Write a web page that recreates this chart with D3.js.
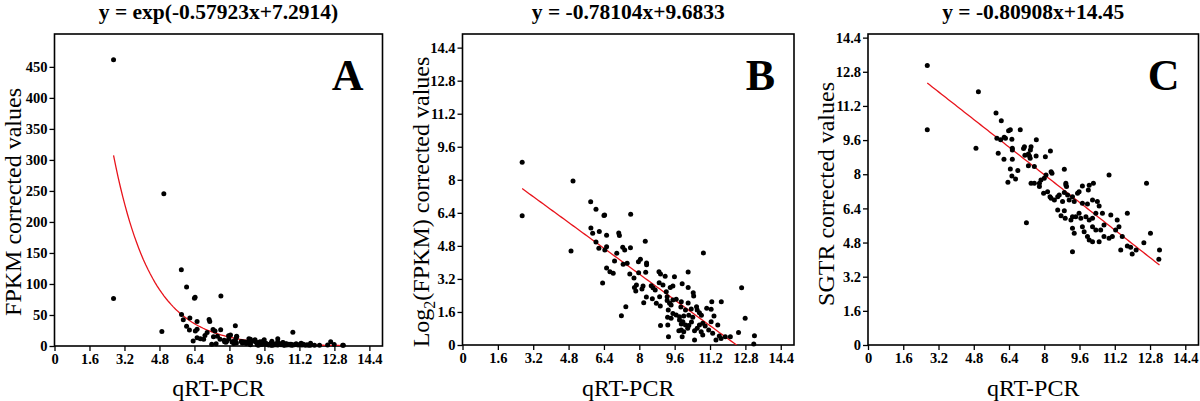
<!DOCTYPE html>
<html>
<head>
<meta charset="utf-8">
<script src="https://cdn.jsdelivr.net/npm/d3@7"></script>
<style>
body { margin: 0; background: #fff; }
</style>
</head>
<body>
<div id="chart"></div>
<script>
// qRT-PCR values shared by panels A and B
var qpcr = [2.70,5.00,2.70,5.80,6.04,6.40,6.43,7.61,5.81,5.89,6.19,6.52,7.07,7.10,6.04,6.17,6.44,6.52,4.91,8.27,
	7.25,7.60,7.34,6.98,6.88,7.27,7.45,8.05,7.96,8.33,8.33,6.52,6.67,6.82,7.57,7.76,7.97,8.29,6.34,8.89,
	8.96,9.17,9.59,10.21,7.87,7.78,8.17,8.12,8.54,8.62,8.72,8.90,9.07,9.40,9.52,9.22,7.84,9.94,10.21,10.44,
	10.46,8.32,8.59,8.92,8.20,8.77,9.26,9.26,9.37,9.52,9.67,9.44,9.90,8.95,10.21,10.59,11.28,7.39,7.19,9.31,
	9.52,9.88,10.09,10.35,10.62,11.05,11.25,9.28,9.44,9.67,9.82,10.01,10.24,10.42,10.72,10.81,11.38,8.96,9.29,9.82,
	9.97,9.90,10.09,10.36,10.24,10.72,10.87,10.98,11.25,11.55,9.90,10.01,9.79,10.19,10.50,10.62,10.80,10.87,11.14,11.32,
	9.32,9.94,10.50,11.62,11.70,11.89,12.12,11.47,12.49,12.79,12.63,11.71,10.90,13.21,13.18];
var log2Fpkm = [8.85,7.94,6.26,6.94,6.57,6.27,6.30,6.33,5.67,5.41,5.50,5.31,5.42,5.30,4.99,4.68,4.60,4.76,4.55,5.02,
	4.73,4.71,4.60,4.44,4.07,3.91,3.96,4.15,4.03,3.97,3.89,3.73,3.55,3.47,3.44,3.24,3.50,3.52,3.00,3.55,
	3.44,3.33,3.31,3.53,2.91,2.79,2.86,2.71,2.87,2.77,2.66,3.02,2.91,2.79,2.86,2.58,2.61,2.97,2.79,2.53,
	2.37,2.32,2.24,2.34,2.05,2.02,2.34,2.15,2.02,2.18,2.21,1.94,2.10,1.89,2.03,1.85,2.10,1.85,1.42,1.69,
	1.53,1.84,1.69,1.74,1.69,1.78,1.73,1.34,1.29,1.45,1.37,1.40,1.44,1.34,1.56,1.44,1.40,0.94,0.97,1.21,
	1.13,1.02,0.97,1.11,0.95,0.97,1.05,0.92,1.13,0.97,0.73,0.64,0.69,0.81,0.69,0.81,0.64,0.48,0.73,0.57,
	0.40,0.40,0.24,0.44,0.32,0.40,0.40,0.24,0.61,1.29,2.77,2.10,4.46,0.45,0.05];
// panel A plots the same measurements un-logged
var fpkm = log2Fpkm.map(function(v) { return Math.pow(2, v); });

// panel C
var qpcrC = [2.69,2.69,5.01,4.90,5.81,6.05,6.38,6.46,6.91,5.85,6.02,6.18,6.24,6.53,7.64,5.91,6.55,6.55,7.06,7.10,
	7.40,7.37,7.28,6.17,6.55,7.63,8.28,8.05,7.12,7.33,7.36,7.28,7.55,6.46,6.80,6.53,6.70,6.35,7.40,7.55,
	7.78,7.78,7.85,8.00,8.15,8.26,8.31,8.46,8.61,8.61,7.97,8.08,8.31,8.35,7.19,8.91,8.98,8.68,8.91,10.94,
	12.64,8.98,9.01,9.73,10.04,10.23,10.00,9.58,9.51,8.83,9.06,9.13,9.28,9.36,9.73,9.96,10.19,10.41,10.49,8.91,
	8.76,8.95,9.28,9.21,9.43,9.58,9.66,9.89,10.04,10.19,10.34,10.64,9.28,9.36,9.73,9.81,10.19,10.34,10.56,10.71,
	9.96,10.04,10.19,10.49,10.71,10.94,11.09,11.02,11.31,11.39,11.24,11.77,11.54,9.28,11.47,11.77,11.92,11.99,12.17,12.52,
	12.82,13.23,13.20];
var sgtr = [13.09,10.09,11.86,9.22,10.87,10.51,10.04,10.08,10.08,9.69,9.61,9.73,9.69,9.64,9.62,8.98,9.22,9.14,9.20,9.29,
	9.29,9.14,8.95,8.70,8.70,8.86,9.09,8.82,8.89,8.86,8.75,8.40,8.36,8.25,8.17,7.92,7.78,7.62,7.58,7.58,
	7.58,7.42,7.73,7.81,7.18,6.95,6.87,6.79,6.95,6.33,7.11,7.97,8.12,8.05,5.73,8.23,7.50,7.03,7.14,7.97,
	7.58,7.58,7.42,7.45,7.48,7.58,7.26,7.18,7.11,6.72,7.03,6.79,6.95,6.72,6.64,6.61,6.79,6.72,6.51,6.29,
	6.05,5.94,6.01,5.86,6.01,6.17,5.94,6.01,5.86,5.94,6.17,6.17,5.47,5.23,5.54,5.31,5.54,5.39,5.39,5.62,
	5.08,4.92,4.84,4.84,5.08,5.00,5.08,6.09,5.86,5.54,5.39,6.17,5.08,4.37,4.45,4.64,4.58,4.26,4.45,4.79,
	5.23,4.45,4.02];

var xTicks = [0,1.6,3.2,4.8,6.4,8,9.6,11.2,12.8,14.4];
var logTicks = [0,1.6,3.2,4.8,6.4,8,9.6,11.2,12.8,14.4];
var fpkmTicks = [0,50,100,150,200,250,300,350,400,450];

var w = 1200;
var h = 401;
var serif = "'Liberation Serif', 'Times New Roman', serif";

var svg = d3.select("#chart").append("svg").attr("width", w).attr("height", h);

var panels = [
	{ id: "A", left: 54.5, right: 382.5, top: 34, bottom: 346, ymax: 503, yt: fpkmTicks, labY: 202,
	  xs: qpcr, ys: fpkm, title: "y = exp(-0.57923x+7.2914)", ylab: ["FPKM corrected values"],
	  fit: function(x) { return Math.exp(-0.57923 * x + 7.2914); } },
	{ id: "B", left: 462.5, right: 794, top: 34, bottom: 345, ymax: 15.06, yt: logTicks, labY: 202,
	  xs: qpcr, ys: log2Fpkm, title: "y = -0.78104x+9.6833", ylab: ["Log", "2", "(FPKM) corrected values"],
	  fit: function(x) { return -0.78104 * x + 9.6833; } },
	{ id: "C", left: 868, right: 1198.5, top: 34, bottom: 345, ymax: 14.57, yt: logTicks, labY: 194,
	  xs: qpcrC, ys: sgtr, title: "y = -0.80908x+14.45", ylab: ["SGTR corrected values"],
	  fit: function(x) { return -0.80908 * x + 14.45; } }
];

function drawPanel(p) {
	var g = svg.append("g");
	var x = d3.scaleLinear().domain([0, 15]).range([p.left, p.right]);
	var y = d3.scaleLinear().domain([0, p.ymax]).range([p.bottom, p.top]);

	g.append("clipPath").attr("id", "clip" + p.id)
		.append("rect")
		.attr("x", p.left).attr("y", p.top)
		.attr("width", p.right - p.left).attr("height", p.bottom - p.top);

	// axes
	var xa = g.append("g").attr("transform", "translate(0," + p.bottom + ")")
		.call(d3.axisBottom(x).tickValues(xTicks).tickSize(5).tickSizeOuter(0).tickPadding(3)
			.tickFormat(function(d) { return String(d); }));
	var ya = g.append("g").attr("transform", "translate(" + p.left + ",0)")
		.call(d3.axisLeft(y).tickValues(p.yt).tickSize(5).tickSizeOuter(0).tickPadding(2)
			.tickFormat(function(d) { return String(d); }));
	[xa, ya].forEach(function(a) {
		a.select(".domain").remove();
		a.selectAll("line").attr("stroke", "#000").attr("stroke-width", 1.3);
		a.selectAll("text").attr("font-family", serif).attr("font-size", 14.5)
			.attr("font-weight", "bold").attr("fill", "#000");
	});

	// frame
	g.append("rect")
		.attr("x", p.left).attr("y", p.top)
		.attr("width", p.right - p.left).attr("height", p.bottom - p.top)
		.attr("fill", "none").attr("stroke", "#000").attr("stroke-width", 1.6);

	// fitted curve
	var x0 = d3.min(p.xs), x1 = d3.max(p.xs);
	var fx = d3.range(0, 101).map(function(i) { return x0 + (x1 - x0) * i / 100; });
	g.append("path")
		.datum(fx)
		.attr("clip-path", "url(#clip" + p.id + ")")
		.attr("fill", "none").attr("stroke", "#e8141c").attr("stroke-width", 1.3)
		.attr("d", d3.line().x(function(d) { return x(d); }).y(function(d) { return y(p.fit(d)); }));

	// points
	g.selectAll("circle.pt")
		.data(p.xs)
		.enter().append("circle")
		.attr("class", "pt")
		.attr("cx", function(d) { return x(d); })
		.attr("cy", function(d, i) { return y(p.ys[i]); })
		.attr("r", 2.5)
		.attr("fill", "#000");

	// title
	g.append("text")
		.text(p.title)
		.attr("x", (p.left + p.right) / 2).attr("y", 19)
		.attr("text-anchor", "middle")
		.attr("font-family", serif).attr("font-size", 21.5).attr("font-weight", "bold");

	// panel letter
	g.append("text")
		.text(p.id)
		.attr("x", p.right - 19).attr("y", 90)
		.attr("text-anchor", "end")
		.attr("font-family", serif).attr("font-size", 44).attr("font-weight", "bold");

	// x label
	g.append("text")
		.text("qRT-PCR")
		.attr("x", (p.left + p.right) / 2).attr("y", 396)
		.attr("text-anchor", "middle")
		.attr("font-family", serif).attr("font-size", 24);

	// y label
	var yl = g.append("text")
		.attr("transform", "translate(" + (p.left - 34) + "," + p.labY + ") rotate(-90)")
		.attr("text-anchor", "middle")
		.attr("font-family", serif).attr("font-size", 24);
	if (p.ylab.length == 1) {
		yl.text(p.ylab[0]);
	} else {
		yl.append("tspan").text(p.ylab[0]);
		yl.append("tspan").text(p.ylab[1]).attr("font-size", 16).attr("dy", 6);
		yl.append("tspan").text(p.ylab[2]).attr("dy", -6);
	}
}

for (var i = 0; i < panels.length; i = i + 1) {
	drawPanel(panels[i]);
}
</script>
</body>
</html>
